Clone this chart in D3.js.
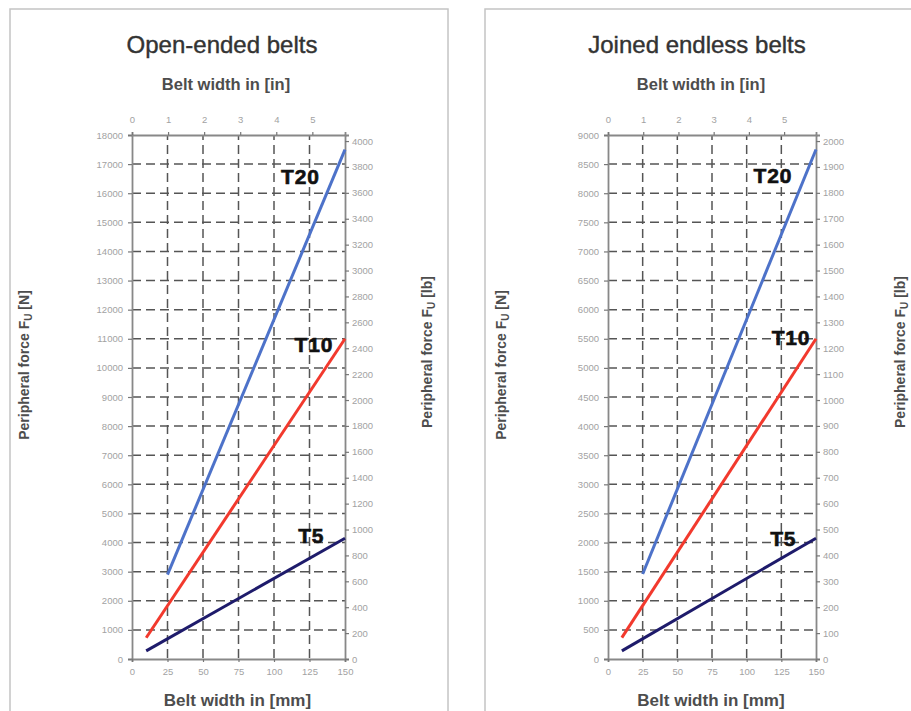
<!DOCTYPE html>
<html>
<head>
<meta charset="utf-8">
<script src="https://cdn.jsdelivr.net/npm/d3@7"></script>
<style>
  html, body { margin: 0; padding: 0; background: #fff; }
  svg { display: block; }
  text { font-family: "Liberation Sans", Arial, sans-serif; }
</style>
</head>
<body>
<svg id="chart" width="911" height="711"></svg>
<script>
// Belt width axes
const mmTicks = [0, 25, 50, 75, 100, 125, 150];
const inchTicks = [0, 1, 2, 3, 4, 5];

// Open-ended belts: force axis ticks
const openNTicks = [0, 1000, 2000, 3000, 4000, 5000, 6000, 7000, 8000, 9000,
  10000, 11000, 12000, 13000, 14000, 15000, 16000, 17000, 18000];
const openLbTicks = [0, 200, 400, 600, 800, 1000, 1200, 1400, 1600, 1800, 2000,
  2200, 2400, 2600, 2800, 3000, 3200, 3400, 3600, 3800, 4000];

// Joined endless belts: force axis ticks
const joinedNTicks = [0, 500, 1000, 1500, 2000, 2500, 3000, 3500, 4000, 4500,
  5000, 5500, 6000, 6500, 7000, 7500, 8000, 8500, 9000];
const joinedLbTicks = [0, 100, 200, 300, 400, 500, 600, 700, 800, 900, 1000,
  1100, 1200, 1300, 1400, 1500, 1600, 1700, 1800, 1900, 2000];

// Peripheral force [N] vs belt width [mm]
const openT20 = [[25, 2900], [150, 17500]];
const openT10 = [[10, 730], [150, 11000]];
const openT5 = [[10, 280], [150, 4150]];
const joinedT20 = [[25, 1460], [150, 8750]];
const joinedT10 = [[10, 367], [150, 5500]];
const joinedT5 = [[10, 140], [150, 2075]];

const profileNames = ["T20", "T10", "T5"];
const profileColors = ["#4d72c9", "#f2392d", "#1e1b6b"];
// label anchor points in data units [mm, N] (left edge / baseline)
const openLabelAt = [[105, 16330], [114.5, 10550], [117, 3980]];
const joinedLabelAt = [[105, 8170], [118, 5400], [117, 1940]];

const N_PER_LB = 4.448;

const svg = d3.select("#chart");

function drawPanel(p) {
  const g = svg.append("g");

  // panel frame
  g.append("rect")
    .attr("x", p.frame[0]).attr("y", p.frame[1])
    .attr("width", p.frame[2]).attr("height", p.frame[3])
    .attr("fill", "none").attr("stroke", "#c4c4c4").attr("stroke-width", 1.5);

  const x = d3.scaleLinear().domain([0, 150]).range([p.left, p.right]);
  const y = d3.scaleLinear().domain([0, p.maxN]).range([p.bottom, p.top]);
  const xIn = d3.scaleLinear().domain([0, 150 / 25.4]).range([p.left, p.right]);
  const yLb = d3.scaleLinear().domain([0, p.maxN / N_PER_LB]).range([p.bottom, p.top]);

  // titles
  g.append("text").attr("x", p.cx).attr("y", 53)
    .attr("text-anchor", "middle").attr("font-size", 24).attr("fill", "#333")
    .attr("stroke", "#333").attr("stroke-width", 0.4)
    .text(p.title);
  g.append("text").attr("x", p.cx + 4).attr("y", 90)
    .attr("text-anchor", "middle").attr("font-size", 16.5).attr("font-weight", "bold")
    .attr("fill", "#4d4d4d").text("Belt width in [in]");
  g.append("text").attr("x", (p.left + p.right) / 2 - 1).attr("y", 706)
    .attr("text-anchor", "middle").attr("font-size", 17).attr("font-weight", "bold")
    .attr("fill", "#4d4d4d").text("Belt width in [mm]");

  // dashed grid
  const grid = g.append("g").attr("stroke", "#555").attr("stroke-width", 1.5)
    .attr("stroke-dasharray", "9,5");
  grid.selectAll("line.h").data(p.nTicks.slice(1, -1)).join("line")
    .attr("x1", p.left).attr("x2", p.right)
    .attr("y1", d => y(d)).attr("y2", d => y(d));
  grid.selectAll("line.v").data(mmTicks.slice(1, -1)).join("line")
    .attr("y1", p.top).attr("y2", p.bottom)
    .attr("x1", d => x(d)).attr("x2", d => x(d))
    .attr("stroke-dashoffset", 4);

  // axes
  const fmt = d3.format("d");
  const axisStyle = sel => {
    sel.selectAll("text").attr("fill", "#a2a2a2").attr("font-size", 9.5)
      .attr("font-family", "'Liberation Sans', Arial, sans-serif");
    sel.selectAll("line").attr("stroke", "#777").attr("stroke-width", 1.2);
    sel.select(".domain").attr("stroke", "#888").attr("stroke-width", 1.8);
  };
  g.append("g").attr("transform", `translate(${p.left},0)`)
    .call(d3.axisLeft(y).tickValues(p.nTicks).tickFormat(fmt).tickSize(4).tickPadding(5))
    .call(axisStyle);
  g.append("g").attr("transform", `translate(${p.right},0)`)
    .call(d3.axisRight(yLb).tickValues(p.lbTicks).tickFormat(fmt).tickSize(4).tickPadding(3))
    .call(axisStyle);
  g.append("g").attr("transform", `translate(0,${p.bottom})`)
    .call(d3.axisBottom(x).tickValues(mmTicks).tickFormat(fmt).tickSize(3).tickPadding(6))
    .call(axisStyle);
  g.append("g").attr("transform", `translate(0,${p.top})`)
    .call(d3.axisTop(xIn).tickValues(inchTicks).tickFormat(fmt).tickSize(3).tickPadding(9))
    .call(axisStyle);

  // y titles
  const yTitle = (tx, ty, unit) => {
    const t = g.append("text")
      .attr("transform", `translate(${tx},${ty}) rotate(-90)`)
      .attr("text-anchor", "middle").attr("font-size", 14).attr("font-weight", "bold")
      .attr("fill", "#4d4d4d");
    t.append("tspan").text("Peripheral force F");
    t.append("tspan").attr("font-size", 10).attr("dy", 3).text("U");
    t.append("tspan").attr("dy", -3).text(` [${unit}]`);
  };
  yTitle(p.nTitleX, 365, "N");
  yTitle(p.lbTitleX, 352, "lb");

  // profile lines
  const line = d3.line().x(d => x(d[0])).y(d => y(d[1]));
  p.series.forEach((s, i) => {
    g.append("path").datum(s).attr("d", line)
      .attr("fill", "none").attr("stroke", profileColors[i]).attr("stroke-width", 3);
  });

  // profile labels
  p.labelAt.forEach((a, i) => {
    g.append("text").attr("x", x(a[0])).attr("y", y(a[1]))
      .attr("font-size", 21).attr("font-weight", "bold").attr("fill", "#111")
      .attr("stroke", "#111").attr("stroke-width", 0.6).attr("letter-spacing", 0.8)
      .text(profileNames[i]);
  });
}

drawPanel({
  title: "Open-ended belts",
  frame: [10, 9, 438, 720], cx: 222,
  left: 132, right: 345, top: 135, bottom: 659,
  maxN: 18000, nTicks: openNTicks, lbTicks: openLbTicks,
  series: [openT20, openT10, openT5], labelAt: openLabelAt,
  nTitleX: 29, lbTitleX: 432
});

drawPanel({
  title: "Joined endless belts",
  frame: [485, 9, 440, 720], cx: 697,
  left: 608, right: 816, top: 135, bottom: 659,
  maxN: 9000, nTicks: joinedNTicks, lbTicks: joinedLbTicks,
  series: [joinedT20, joinedT10, joinedT5], labelAt: joinedLabelAt,
  nTitleX: 506, lbTitleX: 905
});
</script>
</body>
</html>
